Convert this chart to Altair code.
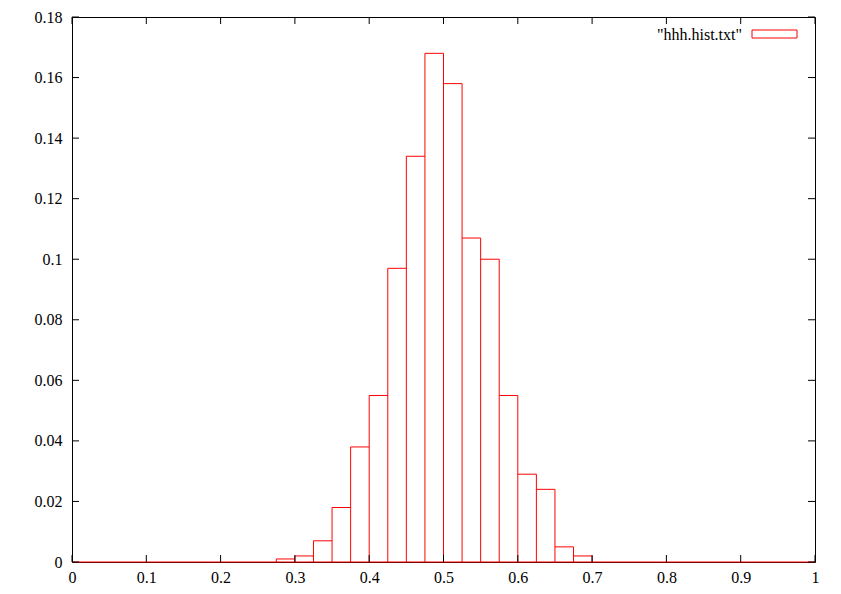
import altair as alt
import pandas as pd

# histogram bins (width 0.025) and relative frequencies
bin_start = [0.0, 0.025, 0.05, 0.075, 0.1, 0.125, 0.15, 0.175, 0.2, 0.225,
             0.25, 0.275, 0.3, 0.325, 0.35, 0.375, 0.4, 0.425, 0.45, 0.475,
             0.5, 0.525, 0.55, 0.575, 0.6, 0.625, 0.65, 0.675, 0.7, 0.725,
             0.75, 0.775, 0.8, 0.825, 0.85, 0.875, 0.9, 0.925, 0.95, 0.975]
bin_end = [0.025, 0.05, 0.075, 0.1, 0.125, 0.15, 0.175, 0.2, 0.225, 0.25,
           0.275, 0.3, 0.325, 0.35, 0.375, 0.4, 0.425, 0.45, 0.475, 0.5,
           0.525, 0.55, 0.575, 0.6, 0.625, 0.65, 0.675, 0.7, 0.725, 0.75,
           0.775, 0.8, 0.825, 0.85, 0.875, 0.9, 0.925, 0.95, 0.975, 1.0]
freq = [0, 0, 0, 0, 0, 0, 0, 0, 0, 0,
        0, 0.001, 0.002, 0.007, 0.018, 0.038, 0.055, 0.097, 0.134, 0.168,
        0.158, 0.107, 0.100, 0.055, 0.029, 0.024, 0.005, 0.002, 0, 0,
        0, 0, 0, 0, 0, 0, 0, 0, 0, 0]

x_ticks = [0, 0.1, 0.2, 0.3, 0.4, 0.5, 0.6, 0.7, 0.8, 0.9, 1]
y_ticks = [0, 0.02, 0.04, 0.06, 0.08, 0.1, 0.12, 0.14, 0.16, 0.18]
legend_label = '"hhh.hist.txt"'

W, H = 743, 545
FONT = "Times New Roman"
RED = "#ff0000"

# box outline pieces derived from the bins: tops, one vertical per edge, baseline
tops = pd.DataFrame({"x0": bin_start, "x1": bin_end, "f": freq})
edges = [bin_start[0]] + bin_end
edge_h = []
for k, e in enumerate(edges):
    left = freq[k - 1] if k > 0 else 0
    right = freq[k] if k < len(freq) else 0
    edge_h.append(max(left, right))
verts = pd.DataFrame({"x": edges, "h": edge_h})
verts = verts[verts["h"] > 0]
base = pd.DataFrame({"x0": [bin_start[0]], "x1": [bin_end[-1]], "f": [0]})
xt = pd.DataFrame({"v": x_ticks})
yt = pd.DataFrame({"v": y_ticks})

xscale = alt.Scale(domain=[0, 1], nice=False, zero=False)
yscale = alt.Scale(domain=[0, 0.18], nice=False)

xaxis = alt.Axis(values=x_ticks, format="~g", title=None, grid=False, domain=False,
                 ticks=False, labelFont=FONT, labelFontSize=16, labelColor="black",
                 labelPadding=7, labelFlush=False)
yaxis = alt.Axis(values=y_ticks, format="~g", title=None, grid=False, domain=False,
                 ticks=False, labelFont=FONT, labelFontSize=16, labelColor="black",
                 labelPadding=10, labelFlush=False)

top_rules = alt.Chart(tops).transform_filter("datum.f > 0").mark_rule(
    color=RED, strokeWidth=1).encode(
    x=alt.X("x0:Q", scale=xscale, axis=xaxis),
    x2="x1:Q",
    y=alt.Y("f:Q", scale=yscale, axis=yaxis),
)
vert_rules = alt.Chart(verts).mark_rule(color=RED, strokeWidth=1).encode(
    x=alt.X("x:Q", scale=xscale, axis=xaxis),
    y=alt.Y("h:Q", scale=yscale, axis=yaxis),
    y2=alt.datum(0),
)
base_rule = alt.Chart(base).mark_rule(color=RED, strokeWidth=1).encode(
    x=alt.X("x0:Q", scale=xscale, axis=xaxis),
    x2="x1:Q",
    y=alt.Y("f:Q", scale=yscale, axis=yaxis),
)

TL = 7
bottom_ticks = alt.Chart(xt).mark_rule(color="black", strokeWidth=1).encode(
    x=alt.X("v:Q", scale=xscale, axis=xaxis), y=alt.value(H), y2=alt.value(H - TL))
top_ticks = alt.Chart(xt).mark_rule(color="black", strokeWidth=1).encode(
    x=alt.X("v:Q", scale=xscale, axis=xaxis), y=alt.value(0), y2=alt.value(TL))
left_ticks = alt.Chart(yt).mark_rule(color="black", strokeWidth=1).encode(
    y=alt.Y("v:Q", scale=yscale, axis=yaxis), x=alt.value(0), x2=alt.value(TL))
right_ticks = alt.Chart(yt).mark_rule(color="black", strokeWidth=1).encode(
    y=alt.Y("v:Q", scale=yscale, axis=yaxis), x=alt.value(W), x2=alt.value(W - TL))

leg_text = alt.Chart(pd.DataFrame({"t": [legend_label]})).mark_text(
    align="right", baseline="middle", font=FONT, fontSize=16, color="black"
).encode(text="t:N", x=alt.value(670), y=alt.value(18))
leg_box = alt.Chart(pd.DataFrame({"t": [legend_label]})).mark_rect(
    stroke=RED, strokeWidth=1, fillOpacity=0
).encode(x=alt.value(680), x2=alt.value(725), y=alt.value(13), y2=alt.value(21))

chart = alt.layer(
    top_rules, vert_rules, base_rule,
    bottom_ticks, top_ticks, left_ticks, right_ticks, leg_text, leg_box
).properties(
    width=W, height=H,
    autosize=alt.AutoSizeParams(type="none"),
    padding={"left": 64, "top": 9, "right": 10, "bottom": 28},
    background="white",
).configure_view(stroke="black", strokeWidth=1)

chart.save("out.html", embed_options={"renderer": "svg", "actions": False})
